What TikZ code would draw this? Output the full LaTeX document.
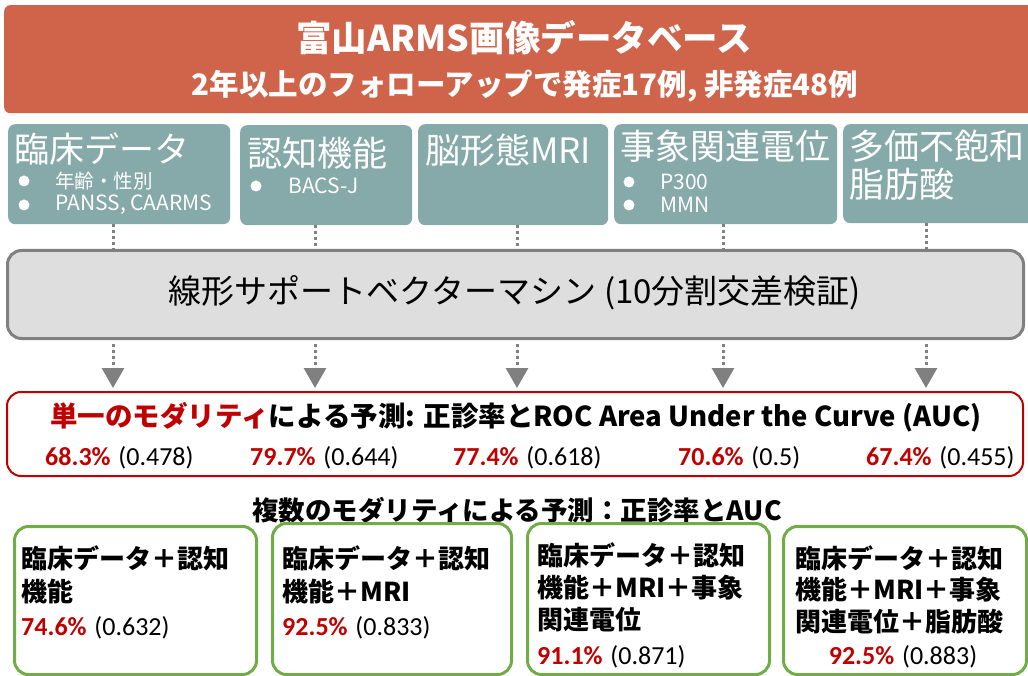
\documentclass[tikz,border=0pt]{standalone}
\usepackage{fontspec}
\newfontfamily\jp{Noto Sans CJK JP}
\newfontfamily\car{Carlito}
\usetikzlibrary{arrows.meta,calc}
\definecolor{bannerc}{RGB}{207,100,74}
\definecolor{tealc}{RGB}{134,169,169}
\definecolor{dred}{RGB}{192,0,0}
\definecolor{grnc}{RGB}{112,173,71}
\definecolor{svmfill}{RGB}{222,222,222}
\definecolor{grayc}{RGB}{128,128,128}
\newcommand\fsz[1]{\fontsize{#1}{#1}\selectfont}
\newcommand\pct[2]{{\car\bfseries\color{dred}#1}~{\car #2}}
\tikzset{
  tealbox/.style={fill=tealc, rounded corners=7pt, anchor=north west, inner sep=0},
  ttl/.style={anchor=west, text=white, font=\jp\fsz{35}, inner sep=0},
  bul/.style={anchor=west, text=white, font=\jp\fsz{21}, inner sep=0},
  dot/.style={circle, fill=white, inner sep=0, minimum size=11pt},
  upline/.style={draw=grayc, line width=3pt, dash pattern=on 3pt off 3pt},
  downarr/.style={draw=grayc, fill=grayc, line width=3pt, dash pattern=on 3pt off 3pt, -{Triangle[width=22pt,length=20pt]}},
  gbox/.style={draw=grnc, line width=3pt, rounded corners=14pt, anchor=north west, inner sep=0},
  gtxt/.style={anchor=west, font=\jp\bfseries\fsz{26}, inner sep=0},
  vtxt/.style={anchor=west, font=\fsz{26}, inner sep=0},
}
\begin{document}
\begin{tikzpicture}[x=1pt,y=-1pt]
\useasboundingbox (0,0) rectangle (1028,676);
% banner
\node[fill=bannerc, rounded corners=6pt, anchor=north west, inner sep=0, minimum width=1040pt, minimum height=108pt] (banner) at (4,5) {};
\node[text=white, font=\jp\bfseries\fsz{35.5}, inner sep=0] (title) at (524,38) {富山ARMS画像データベース};
\node[text=white, font=\jp\bfseries\fsz{29.5}, inner sep=0] (sub) at (525,86) {2年以上のフォローアップで発症17例, 非発症48例};
% teal boxes
\node[tealbox, minimum width=222pt, minimum height=100pt] (b1) at (8,124) {};
\node[tealbox, minimum width=172pt, minimum height=100pt] (b2) at (240,125) {};
\node[tealbox, minimum width=190pt, minimum height=101pt] (b3) at (418,124) {};
\node[tealbox, minimum width=223pt, minimum height=100pt] (b4) at (614,124) {};
\node[tealbox, minimum width=200pt, minimum height=99pt] (b5) at (843,124) {};
\node[ttl] (t1) at (14,149) {臨床データ};
\node[dot] (d11) at (24,181) {};
\node[bul, font=\jp\fsz{19.5}] (s11) at (55,181) {年齢・性別};
\node[dot] (d12) at (24,205) {};
\node[bul] (s12) at (55,205) {PANSS, CAARMS};
\node[ttl] (t2) at (247,153) {認知機能};
\node[dot] (d21) at (256,186) {};
\node[bul] (s21) at (288,186) {BACS-J};
\node[ttl] (t3) at (425,150) {脳形態MRI};
\node[ttl] (t4) at (620,146) {事象関連電位};
\node[dot] (d41) at (629,182) {};
\node[bul] (s41) at (660,182) {P300};
\node[dot] (d42) at (629,205) {};
\node[bul] (s42) at (660,205) {MMN};
\node[ttl] (t5) at (849,146) {多価不飽和};
\node[ttl] (t52) at (849,184) {脂肪酸};
% SVM
\node[draw=grayc, fill=svmfill, line width=3pt, rounded corners=14pt, anchor=north west, inner sep=0, minimum width=1016pt, minimum height=88pt] (svm) at (6,249) {};
\node[font=\jp\fsz{33}, inner sep=0] (svmt) at (515,293) {線形サポートベクターマシン (10分割交差検証)};
% connector coordinates
\coordinate (c1) at (113,249);
\coordinate (c2) at (315,249);
\coordinate (c3) at (517,249);
\coordinate (c4) at (723,249);
\coordinate (c5) at (926,249);
% red box
\node[draw=dred, line width=2pt, rounded corners=14pt, anchor=north west, inner sep=0, minimum width=1016pt, minimum height=84pt] (red) at (6,391) {};
\foreach \c/\b in {c1/b1,c2/b2,c3/b3,c4/b4,c5/b5}{
  \draw[upline] (\c |- \b.south) -- (\c);
  \draw[downarr] ($(\c |- svm.south)+(0,4)$) -- ($(\c |- red.north)+(0,-3)$);
}
\node[font=\jp\bfseries\fsz{27.5}, inner sep=0] (rh) at (516,417) {{\color{dred}単一のモダリティ}による予測: 正診率とROC Area Under the Curve (AUC)};
\node[vtxt] (v1) at (45,458) {\pct{68.3\%}{(0.478)}};
\node[vtxt] (v2) at (250,458) {\pct{79.7\%}{(0.644)}};
\node[vtxt] (v3) at (453,458) {\pct{77.4\%}{(0.618)}};
\node[vtxt] (v4) at (678,458) {\pct{70.6\%}{(0.5)}};
\node[vtxt] (v5) at (866,458) {\pct{67.4\%}{(0.455)}};
% multi heading
\node[font=\jp\bfseries\fsz{26.5}, inner sep=0] (mh) at (517,510) {複数のモダリティによる予測：正診率とAUC};
% green boxes
\node[gbox, minimum width=242pt, minimum height=148pt] (g1) at (13,525) {};
\node[gbox, minimum width=239pt, minimum height=151pt] (g2) at (271,522) {};
\node[gbox, minimum width=242pt, minimum height=151pt] (g3) at (526,522) {};
\node[gbox, minimum width=243pt, minimum height=148pt] (g4) at (782,525) {};
\node[gtxt] (g1a) at (21,558) {臨床データ＋認知};
\node[gtxt] (g1b) at (21,592) {機能};
\node[vtxt] (g1c) at (21,628) {\pct{74.6\%}{(0.632)}};
\node[gtxt] (g2a) at (282,558) {臨床データ＋認知};
\node[gtxt] (g2b) at (282,592) {機能＋MRI};
\node[vtxt] (g2c) at (282,628) {\pct{92.5\%}{(0.833)}};
\node[gtxt] (g3a) at (537,555) {臨床データ＋認知};
\node[gtxt] (g3b) at (537,588) {機能＋MRI＋事象};
\node[gtxt] (g3c) at (537,620) {関連電位};
\node[vtxt] (g3d) at (537,657) {\pct{91.1\%}{(0.871)}};
\node[gtxt] (g4a) at (795,558) {臨床データ＋認知};
\node[gtxt] (g4b) at (795,590) {機能＋MRI＋事象};
\node[gtxt] (g4c) at (795,622) {関連電位＋脂肪酸};
\node[font=\fsz{26}, inner sep=0] (g4d) at (903,657) {\pct{92.5\%}{(0.883)}};
\end{tikzpicture}
\end{document}
